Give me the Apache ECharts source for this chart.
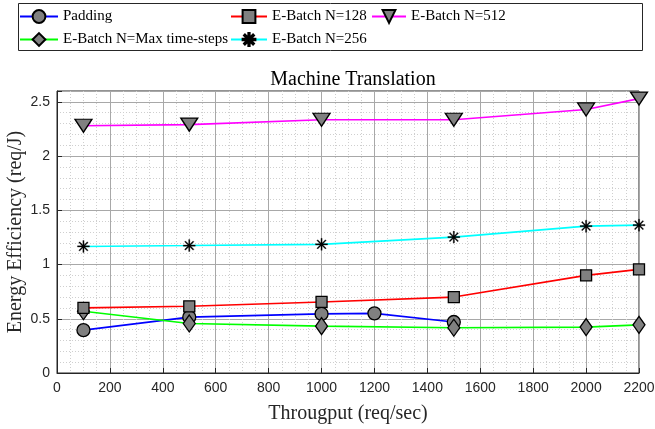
<!DOCTYPE html>
<html><head><meta charset="utf-8">
<script src="https://cdn.jsdelivr.net/npm/echarts@6/dist/echarts.min.js"></script>
<style>html,body{margin:0;padding:0;background:#fff}#c{width:655px;height:429px}</style>
</head><body><div id="c"></div>
<script>
const paddingX = [100, 500, 1000, 1200, 1500];
const paddingY = [0.395, 0.515, 0.545, 0.55, 0.47];
const b128X = [100, 500, 1000, 1500, 2000, 2200];
const b128Y = [0.60, 0.615, 0.655, 0.70, 0.90, 0.955];
const b512X = [100, 500, 1000, 1500, 2000, 2200];
const b512Y = [2.28, 2.29, 2.335, 2.335, 2.43, 2.53];
const maxX = [100, 500, 1000, 1500, 2000, 2200];
const maxY = [0.57, 0.457, 0.432, 0.417, 0.423, 0.444];
const b256X = [100, 500, 1000, 1500, 2000, 2200];
const b256Y = [1.167, 1.175, 1.186, 1.253, 1.354, 1.363];
const xTicks = [0, 200, 400, 600, 800, 1000, 1200, 1400, 1600, 1800, 2000, 2200];
const yTicks = [0, 0.5, 1, 1.5, 2, 2.5];

const pairs = (xs, ys) => xs.map((x, i) => [x, ys[i]]);
const serif = 'Liberation Serif';
const sans = 'Liberation Sans';
const asterisk = 'path://M-1,-10 L1,-10 L1,10 L-1,10 Z M-10,-1 L10,-1 L10,1 L-10,1 Z M6.36,-7.78 L7.78,-6.36 L-6.36,7.78 L-7.78,6.36 Z M-7.78,-6.36 L-6.36,-7.78 L7.78,6.36 L6.36,7.78 Z';

function mk(name, xs, ys, color, symbol, size, rotate) {
  return {
    name, type: 'line', xAxisIndex: 1, yAxisIndex: 1,
    data: pairs(xs, ys), symbol, symbolSize: size, symbolRotate: rotate || 0,
    showAllSymbol: true, animation: false,
    lineStyle: { color, width: 1.6 },
    itemStyle: symbol === asterisk ? { color: '#000', borderColor: '#000', borderWidth: 0.3 } : { color: '#808080', borderColor: '#000', borderWidth: 1.3 },
    color
  };
}

const chart = echarts.init(document.getElementById('c'));
const legendText = { fontFamily: serif, fontSize: 15, color: '#000' };
chart.setOption({
  animation: false,
  title: { text: 'Machine Translation', left: 348, top: 65, textAlign: 'center',
    textStyle: { fontFamily: serif, fontSize: 20, fontWeight: 'normal', color: '#000' } },
  graphic: [{ type: 'rect', shape: { x: 18.5, y: 3.5, width: 624, height: 47 },
    style: { fill: '#fff', stroke: '#262626', lineWidth: 1 }, z: -1 }],
  legend: [
    { data: ['Padding', 'E-Batch N=Max time-steps'], orient: 'vertical', padding: 0, left: 19, top: 9, itemWidth: 38, itemHeight: 16, itemGap: 8, textStyle: legendText },
    { data: ['E-Batch N=128', 'E-Batch N=256'], orient: 'vertical', padding: 0, left: 230, top: 9, itemWidth: 36, itemHeight: 16, itemGap: 8, textStyle: legendText },
    { data: ['E-Batch N=512'], orient: 'vertical', padding: 0, left: 371, top: 9, itemWidth: 34, itemHeight: 16, textStyle: legendText }
  ],
  grid: { left: 57, right: 16, top: 91, bottom: 56, show: true, borderColor: '#262626', borderWidth: 1, backgroundColor: 'transparent', outerBoundsMode: 'none' },
  xAxis: [
    { type: 'value', position: 'bottom', min: 0, max: 2200, interval: 50, axisLine: { show: false }, axisTick: { show: false }, axisLabel: { show: false },
      splitLine: { show: true, lineStyle: { color: '#cfcfcf', type: [1, 2], width: 1 } } },
    { type: 'value', position: 'bottom', min: 0, max: 2200, interval: 200,
      name: 'Througput (req/sec)', nameLocation: 'middle', nameGap: 31, nameMoveOverlap: false,
      nameTextStyle: { fontFamily: serif, fontSize: 20, color: '#262626' },
      axisLine: { show: true, lineStyle: { color: '#262626' } },
      axisTick: { show: true, inside: true, length: 5, lineStyle: { color: '#262626' } },
      axisLabel: { fontFamily: sans, fontSize: 14, color: '#262626', margin: 8,
        formatter: v => xTicks.includes(v) ? String(v) : '' },
      splitLine: { show: true, lineStyle: { color: '#a8a8a8', width: 1 } } }
  ],
  yAxis: [
    { type: 'value', position: 'left', min: 0, max: 2.6, interval: 0.1, axisLine: { show: false }, axisTick: { show: false }, axisLabel: { show: false },
      splitLine: { show: true, lineStyle: { color: '#cfcfcf', type: [1, 2], width: 1 } } },
    { type: 'value', position: 'left', min: 0, max: 2.6, interval: 0.5,
      name: 'Energy Efficiency (req/J)', nameLocation: 'middle', nameGap: 31, nameMoveOverlap: false,
      nameTextStyle: { fontFamily: serif, fontSize: 20, color: '#262626' },
      axisLine: { show: true, lineStyle: { color: '#262626' } },
      axisTick: { show: true, inside: true, length: 5, lineStyle: { color: '#262626' } },
      axisLabel: { fontFamily: sans, fontSize: 14, color: '#262626', margin: 7,
        formatter: v => yTicks.some(t => Math.abs(t - v) < 1e-9) ? String(+v.toFixed(1)) : '' },
      splitLine: { show: true, lineStyle: { color: '#a8a8a8', width: 1 } } }
  ],
  series: [
    mk('Padding', paddingX, paddingY, '#0000ff', 'circle', 13),
    mk('E-Batch N=Max time-steps', maxX, maxY, '#00ff00', 'diamond', [12, 17]),
    mk('E-Batch N=128', b128X, b128Y, '#ff0000', 'rect', 11),
    mk('E-Batch N=256', b256X, b256Y, '#00ffff', asterisk, 12),
    mk('E-Batch N=512', b512X, b512Y, '#ff00ff', 'triangle', [17, 13], 180)
  ]
});
</script></body></html>
